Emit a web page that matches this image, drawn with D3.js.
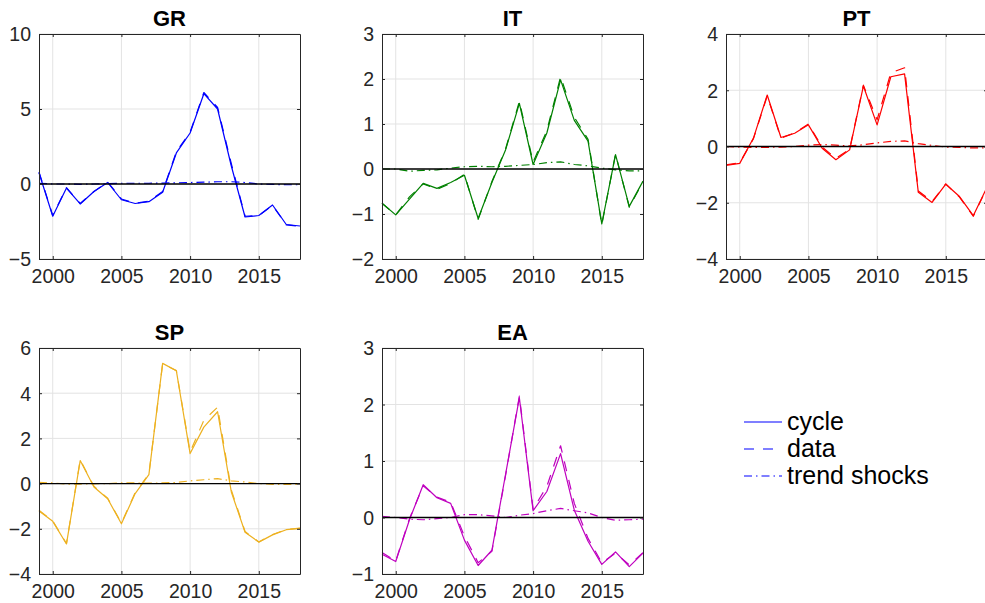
<!DOCTYPE html>
<html>
<head>
<meta charset="utf-8">
<script src="https://cdn.jsdelivr.net/npm/d3@7"></script>
<style>
  body { margin: 0; background: #fff; }
  svg { display: block; }
  text { font-family: "Liberation Sans", Arial, Helvetica, sans-serif; }
</style>
</head>
<body>
<svg id="chart" width="985" height="603"></svg>
<script>
// ---------------- DATA ----------------
const years = [1999,2000,2001,2002,2003,2004,2005,2006,2007,2008,2009,2010,2011,2012,2013,2014,2015,2016,2017,2018];
const xTicks = [2000, 2005, 2010, 2015];
const seriesNames = ["cycle", "data", "trend shocks"];

const countries = ["GR", "IT", "PT", "SP", "EA"];

const grCycle = [0.75,-2.15,-0.27,-1.33,-0.5,0.1,-1.05,-1.3,-1.18,-0.55,2.07,3.4,6.02,5.0,1.2,-2.2,-2.1,-1.4,-2.7,-2.8];
const grData  = [0.8,-2.1,-0.25,-1.3,-0.5,0.12,-1.0,-1.28,-1.15,-0.5,2.15,3.45,6.1,5.1,1.35,-2.15,-2.1,-1.42,-2.72,-2.82];
const grTrend = [0.05,0.0,0.0,-0.02,0.0,0.02,0.05,0.05,0.05,0.06,0.08,0.1,0.12,0.15,0.15,0.1,0.0,-0.03,-0.05,-0.05];
const grYTicks = [-5, 0, 5, 10];

const itCycle = [-0.76,-1.02,-0.67,-0.32,-0.43,-0.3,-0.14,-1.1,-0.3,0.43,1.46,0.1,0.8,1.98,1.08,0.62,-1.22,0.32,-0.83,-0.27];
const itData  = [-0.76,-1.02,-0.62,-0.33,-0.45,-0.32,-0.12,-1.12,-0.28,0.45,1.5,0.15,0.85,2.05,1.15,0.66,-1.24,0.33,-0.85,-0.28];
const itTrend = [0,0,-0.05,-0.03,-0.02,0.02,0.05,0.06,0.05,0.06,0.08,0.1,0.14,0.16,0.1,0.07,0.02,-0.02,-0.04,-0.04];
const itYTicks = [-2, -1, 0, 1, 2, 3];

const ptCycle = [-0.67,-0.6,0.3,1.83,0.32,0.47,0.77,-0.06,-0.47,-0.12,2.15,0.77,2.48,2.58,-1.63,-1.99,-1.34,-1.78,-2.46,-1.45];
const ptData  = [-0.65,-0.58,0.28,1.8,0.3,0.48,0.8,-0.02,-0.42,-0.1,2.18,0.95,2.62,2.8,-1.58,-1.96,-1.33,-1.8,-2.48,-1.47];
const ptTrend = [0,-0.02,-0.03,-0.03,-0.02,0,0.05,0.07,0.05,0.02,0.06,0.13,0.18,0.2,0.1,0.04,-0.02,-0.03,-0.05,-0.05];
const ptYTicks = [-4, -2, 0, 2, 4];

const spCycle = [-1.21,-1.67,-2.67,1.02,-0.15,-0.67,-1.78,-0.44,0.4,5.32,4.99,1.33,2.5,3.18,-0.37,-2.15,-2.59,-2.27,-2.04,-1.98];
const spData  = [-1.18,-1.65,-2.65,1.05,-0.12,-0.65,-1.75,-0.4,0.42,5.3,5.0,1.4,2.8,3.38,-0.28,-2.12,-2.58,-2.25,-2.03,-1.97];
const spTrend = [0.05,0.03,-0.02,-0.02,-0.01,0,0.03,0.03,0.02,0.03,0.05,0.12,0.17,0.22,0.12,0.07,0,-0.03,-0.04,-0.04];
const spYTicks = [-4, -2, 0, 2, 4, 6];

const eaCycle = [-0.65,-0.78,-0.04,0.58,0.35,0.25,-0.4,-0.85,-0.58,0.77,2.12,0.12,0.46,1.13,0.13,-0.42,-0.83,-0.61,-0.87,-0.63];
const eaData  = [-0.62,-0.77,-0.02,0.56,0.36,0.27,-0.33,-0.8,-0.6,0.75,2.15,0.15,0.55,1.27,0.25,-0.37,-0.8,-0.63,-0.84,-0.62];
const eaTrend = [0.02,0,-0.03,-0.04,-0.02,0,0.05,0.05,0.03,0,0.04,0.07,0.12,0.16,0.12,0.08,0,-0.05,-0.04,-0.03];
const eaYTicks = [-1, 0, 1, 2, 3];

// ---------------- LAYOUT / STYLE ----------------
const panels = [
  { name: "GR", cycle: grCycle, data: grData, trend: grTrend, yTicks: grYTicks, color: "#0000ff", x0: 39,  x1: 300, y0: 34,  y1: 259 },
  { name: "IT", cycle: itCycle, data: itData, trend: itTrend, yTicks: itYTicks, color: "#008000", x0: 382, x1: 643, y0: 34,  y1: 259 },
  { name: "PT", cycle: ptCycle, data: ptData, trend: ptTrend, yTicks: ptYTicks, color: "#ff0000", x0: 726, x1: 987, y0: 34,  y1: 259 },
  { name: "SP", cycle: spCycle, data: spData, trend: spTrend, yTicks: spYTicks, color: "#edb120", x0: 39,  x1: 300, y0: 348, y1: 574 },
  { name: "EA", cycle: eaCycle, data: eaData, trend: eaTrend, yTicks: eaYTicks, color: "#bf00bf", x0: 382, x1: 643, y0: 348, y1: 574 }
];

const dashes = { "cycle": null, "data": "10,9", "trend shocks": "8,4,1.5,4" };
const axisColor = "#262626";
const gridColor = "#e3e3e3";
const tickLen = 3;

const svg = d3.select("#chart");

panels.forEach(p => {
  const x = d3.scaleLinear().domain([years[0], years[years.length - 1]]).range([p.x0, p.x1]);
  const yExt = d3.extent(p.yTicks);
  const y = d3.scaleLinear().domain(yExt).range([p.y1, p.y0]);
  const g = svg.append("g");

  // grid
  g.append("g").selectAll("line").data(xTicks).join("line")
    .attr("x1", d => x(d)).attr("x2", d => x(d))
    .attr("y1", p.y0).attr("y2", p.y1)
    .attr("stroke", gridColor).attr("stroke-width", 1);
  g.append("g").selectAll("line").data(p.yTicks).join("line")
    .attr("x1", p.x0).attr("x2", p.x1)
    .attr("y1", d => y(d)).attr("y2", d => y(d))
    .attr("stroke", gridColor).attr("stroke-width", 1);

  // series
  const line = d3.line().x((d, i) => x(years[i])).y(d => y(d));
  const sets = [["trend shocks", p.trend], ["data", p.data], ["cycle", p.cycle]];
  sets.forEach(([nm, arr]) => {
    g.append("path").datum(arr)
      .attr("d", line)
      .attr("fill", "none")
      .attr("stroke", p.color)
      .attr("stroke-width", 1.2)
      .attr("stroke-linejoin", "round")
      .attr("stroke-dasharray", dashes[nm]);
  });

  // zero line
  g.append("line")
    .attr("x1", p.x0).attr("x2", p.x1)
    .attr("y1", y(0)).attr("y2", y(0))
    .attr("stroke", "#000").attr("stroke-width", 1.3);

  // axes (box with inner ticks, both sides)
  const bottom = d3.axisBottom(x).tickValues(xTicks).tickSizeInner(-tickLen).tickSizeOuter(0).tickPadding(8).tickFormat(d3.format("d"));
  const top = d3.axisTop(x).tickValues(xTicks).tickSizeInner(-tickLen).tickSizeOuter(0).tickFormat("");
  const left = d3.axisLeft(y).tickValues(p.yTicks).tickSizeInner(-tickLen).tickSizeOuter(0).tickPadding(8).tickFormat(d3.format("d"));
  const right = d3.axisRight(y).tickValues(p.yTicks).tickSizeInner(-tickLen).tickSizeOuter(0).tickFormat("");

  const styleAxis = sel => {
    sel.selectAll("path").attr("stroke", axisColor).attr("stroke-width", 1);
    sel.selectAll("line").attr("stroke", axisColor).attr("stroke-width", 1);
    sel.selectAll("text").attr("fill", axisColor).style("font-size", "19.5px")
      .style("font-family", '"Liberation Sans", Arial, sans-serif');
  };
  g.append("g").attr("transform", `translate(0,${p.y1})`).call(bottom).call(styleAxis)
    .selectAll("text").attr("dy", null).attr("y", 24);
  g.append("g").attr("transform", `translate(0,${p.y0})`).call(top).call(styleAxis);
  g.append("g").attr("transform", `translate(${p.x0},0)`).call(left).call(styleAxis)
    .selectAll("text").attr("dy", "0.35em");
  g.append("g").attr("transform", `translate(${p.x1},0)`).call(right).call(styleAxis);

  // title
  g.append("text")
    .attr("x", (p.x0 + p.x1) / 2)
    .attr("y", p.y0 - 8)
    .attr("text-anchor", "middle")
    .style("font-size", "22px").style("font-weight", "bold")
    .attr("fill", "#000")
    .text(p.name);
});

// legend
const legRows = [422, 449, 476];
const leg = svg.append("g");
seriesNames.forEach((nm, i) => {
  leg.append("line")
    .attr("x1", 744).attr("x2", 782)
    .attr("y1", legRows[i]).attr("y2", legRows[i])
    .attr("stroke", "#0000ff").attr("stroke-width", 1.2)
    .attr("stroke-dasharray", dashes[nm]);
  leg.append("text")
    .attr("x", 787).attr("y", legRows[i] + 8)
    .style("font-size", "25px").attr("fill", "#000")
    .text(nm);
});
</script>
</body>
</html>
